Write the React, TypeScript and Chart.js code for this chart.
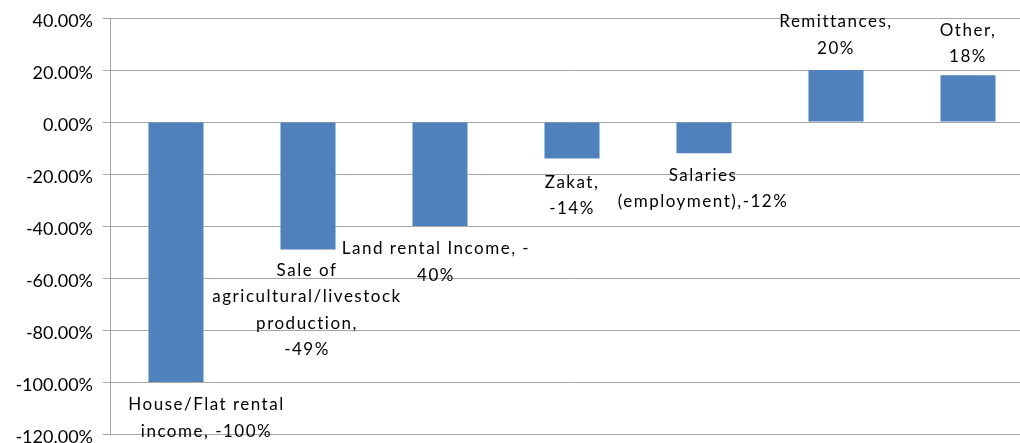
import React, { useEffect, useRef } from "react";
import { Chart, registerables } from "chart.js";

Chart.register(...registerables);

const categories = [
  "House/Flat rental income",
  "Sale of agricultural/livestock production",
  "Land rental Income",
  "Zakat",
  "Salaries (employment)",
  "Remittances",
  "Other",
];
const values = [-100, -49, -40, -14, -12, 20, 18];
const labelLines = [
  ["House/Flat rental", "income, -100%"],
  ["Sale of", "agricultural/livestock", "production,", "-49%"],
  ["Land rental Income, -", "40%"],
  ["Zakat,", "-14%"],
  ["Salaries", "(employment),-12%"],
  ["Remittances,", "20%"],
  ["Other,", "18%"],
];
const labelDx = [30.5, -1, -4, 0, -1, 0, 0];
const labelDy = [23, 21, 23, 24, 22, -48, -45];
const yMin = -120;
const yMax = 40;
const yStep = 20;

const FONT = "Lato";

const labelPlugin = {
  id: "barLabels",
  afterDatasetsDraw(chart: any) {
    const ctx = chart.ctx;
    const xs = chart.scales.x;
    const ys = chart.scales.y;
    ctx.save();
    ctx.font = `17px ${FONT}`;
    ctx.fillStyle = "#000000";
    ctx.textAlign = "center";
    ctx.textBaseline = "middle";
    try {
      (ctx as any).letterSpacing = "1.5px";
    } catch (e) {}
    values.forEach((v, i) => {
      const x = xs.getPixelForValue(i) + labelDx[i];
      const y0 = ys.getPixelForValue(v) + labelDy[i];
      labelLines[i].forEach((line, j) => {
        ctx.fillText(line, x, y0 + j * 26.5);
      });
    });
    ctx.restore();
  },
};

export default function App() {
  const ref = useRef<HTMLCanvasElement>(null);
  useEffect(() => {
    document.body.style.margin = "0";
    const chart = new Chart(ref.current!, {
      type: "bar",
      data: {
        labels: categories,
        datasets: [
          {
            data: values,
            backgroundColor: "#4F81BD",
            barPercentage: 0.417,
            categoryPercentage: 1,
          },
        ],
      },
      options: {
        animation: false,
        responsive: false,
        maintainAspectRatio: false,
        layout: { padding: { top: 30, bottom: 26, left: 0, right: 0 } },
        plugins: { legend: { display: false }, tooltip: { enabled: false } },
        scales: {
          x: { display: false },
          y: {
            min: yMin,
            max: yMax,
            border: { color: "#A6A6A6" },
            grid: { color: "#A6A6A6", tickLength: 7 },
            afterFit(scale: any) {
              scale.width = 110;
            },
            ticks: {
              stepSize: yStep,
              padding: 10,
              labelOffset: 3,
              color: "#000000",
              font: { family: FONT, size: 18 },
              callback: (v: any) => Number(v).toFixed(2) + "%",
            },
          },
        },
      },
      plugins: [labelPlugin],
    });
    return () => chart.destroy();
  }, []);
  return (
    <div style={{ position: "absolute", left: 0, top: 0, width: 1020, height: 443, overflow: "hidden", background: "#fff" }}>
      <canvas
        ref={ref}
        width={1034}
        height={472}
        style={{ position: "absolute", left: 0, top: -12, width: 1034, height: 472 }}
      />
    </div>
  );
}
